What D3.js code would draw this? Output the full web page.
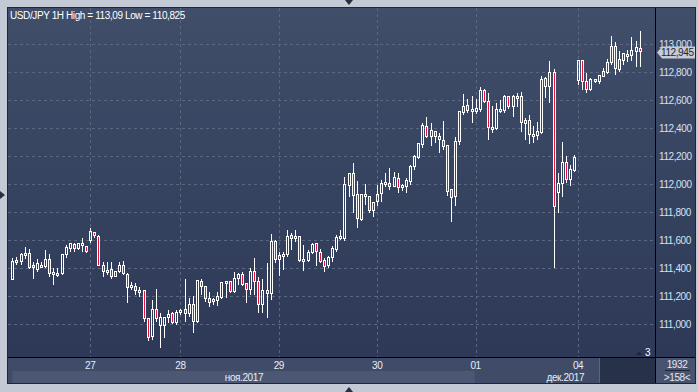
<!DOCTYPE html>
<meta charset="utf-8">
<style>

body {
  margin: 0;
  background: #c3cad6;
}

svg {
  display: block;
  font-family: "Liberation Sans", Arial, sans-serif;
  font-size: 10px;
  letter-spacing: -0.4px;
}

.grid line {
  stroke: #5b6781;
  stroke-dasharray: 3,3;
}

.ylab text {
  fill: #d3e2f6;
}

.wick {
  stroke: #fff;
}

.body {
  stroke: #fff;
}

</style>
<svg width="698" height="392">
  <defs>
    <linearGradient id="bg" x1="0" y1="0" x2="0" y2="1">
      <stop offset="0%" stop-color="#404e6a"></stop>
      <stop offset="100%" stop-color="#2d3956"></stop>
    </linearGradient>
  </defs>
</svg>
<script src="https://cdn.jsdelivr.net/npm/d3@7/dist/d3.min.js"></script>
<script>

// hourly USD/JPY candles
var opens = [111.314,111.441,111.445,111.493,111.503,111.412,111.386,111.410,111.410,111.455,
  111.350,111.355,111.355,111.493,111.533,111.562,111.533,111.562,111.548,111.591,
  111.648,111.619,111.417,111.362,111.383,111.333,111.374,111.417,111.350,111.260,
  111.262,111.224,111.233,111.036,110.905,111.100,110.986,110.986,111.041,111.069,
  111.005,111.083,111.100,111.072,111.133,111.014,111.297,111.264,111.176,111.154,
  111.166,111.183,111.290,111.297,111.226,111.319,111.350,111.283,111.243,111.369,
  111.297,111.133,111.238,111.212,111.588,111.457,111.485,111.493,111.631,111.604,
  111.624,111.445,111.452,111.504,111.569,111.504,111.450,111.416,111.469,111.528,
  111.604,111.607,111.985,112.069,111.921,111.743,111.916,111.909,111.809,111.869,
  111.926,111.997,111.997,111.981,112.033,111.972,111.981,112.017,112.124,112.188,
  112.279,112.409,112.338,112.369,112.333,112.309,112.271,111.957,111.905,112.297,
  112.509,112.557,112.517,112.517,112.528,112.667,112.583,112.390,112.390,112.517,
  112.521,112.619,112.548,112.612,112.619,112.428,112.450,112.343,112.345,112.367,
  112.748,112.690,112.790,111.933,112.000,112.152,112.029,112.095,112.738,112.878,
  112.731,112.671,112.743,112.731,112.766,112.795,112.862,112.976,112.814,112.881,
  112.914,112.914,112.945,112.962];

var highs = [111.469,111.481,111.505,111.548,111.533,111.445,111.462,111.441,111.526,111.498,
  111.398,111.398,111.498,111.562,111.581,111.576,111.576,111.617,111.557,111.683,
  111.653,111.636,111.441,111.441,111.441,111.374,111.441,111.450,111.362,111.303,
  111.295,111.267,111.233,111.041,111.172,111.248,111.076,111.053,111.100,111.088,
  111.100,111.107,111.319,111.188,111.200,111.314,111.319,111.264,111.231,111.183,
  111.226,111.302,111.307,111.309,111.374,111.362,111.369,111.295,111.402,111.469,
  111.338,111.319,111.433,111.640,111.600,111.512,111.512,111.671,111.647,111.671,
  111.624,111.564,111.528,111.576,111.569,111.535,111.469,111.488,111.559,111.635,
  111.671,112.047,112.081,112.152,112.021,111.928,111.997,111.914,111.874,111.993,
  112.028,112.076,112.112,112.088,112.076,111.998,112.040,112.136,112.207,112.295,
  112.438,112.481,112.433,112.374,112.362,112.450,112.279,111.957,112.333,112.521,
  112.643,112.605,112.628,112.605,112.695,112.676,112.648,112.557,112.576,112.600,
  112.636,112.628,112.636,112.652,112.655,112.469,112.493,112.414,112.445,112.771,
  112.767,112.879,112.819,112.081,112.297,112.200,112.136,112.207,112.886,112.886,
  112.790,112.755,112.750,112.778,112.826,112.890,113.059,113.017,112.950,112.938,
  112.957,113.047,113.024,113.093];

var lows = [111.314,111.422,111.422,111.462,111.393,111.324,111.374,111.398,111.403,111.338,
  111.281,111.333,111.350,111.469,111.517,111.517,111.529,111.517,111.510,111.581,
  111.612,111.417,111.338,111.350,111.319,111.333,111.362,111.350,111.148,111.243,
  111.207,111.195,111.017,110.881,110.886,111.017,110.825,110.898,111.005,110.998,
  110.995,111.064,111.017,111.053,110.933,111.005,111.207,111.159,111.124,111.135,
  111.131,111.176,111.183,111.219,111.219,111.278,111.274,111.147,111.207,111.207,
  111.076,111.076,111.045,111.171,111.438,111.345,111.385,111.481,111.528,111.588,
  111.440,111.381,111.445,111.500,111.416,111.438,111.374,111.397,111.445,111.516,
  111.600,111.593,111.909,111.795,111.683,111.738,111.850,111.795,111.766,111.843,
  111.874,111.976,111.957,111.976,111.933,111.950,111.938,111.993,112.100,112.178,
  112.259,112.326,112.271,112.295,112.219,112.243,111.917,111.731,111.845,112.279,
  112.493,112.509,112.438,112.500,112.517,112.576,112.314,112.362,112.386,112.509,
  112.505,112.533,112.481,112.552,112.374,112.314,112.283,112.295,112.314,112.357,
  112.612,112.581,111.397,111.795,111.909,112.010,111.988,112.083,112.707,112.671,
  112.647,112.666,112.719,112.714,112.762,112.785,112.850,112.778,112.797,112.850,
  112.874,112.878,112.838,112.838];

var closes = [111.441,111.450,111.493,111.503,111.403,111.398,111.429,111.417,111.455,111.355,
  111.364,111.360,111.493,111.541,111.569,111.536,111.569,111.569,111.517,111.655,
  111.629,111.417,111.369,111.379,111.333,111.374,111.417,111.355,111.260,111.269,
  111.236,111.233,111.038,110.898,111.100,111.036,111.041,111.045,111.064,111.005,
  111.081,111.093,111.069,111.133,111.014,111.307,111.262,111.176,111.147,111.169,
  111.190,111.290,111.297,111.226,111.319,111.350,111.278,111.243,111.369,111.297,
  111.135,111.238,111.212,111.588,111.457,111.485,111.493,111.624,111.604,111.619,
  111.450,111.457,111.504,111.562,111.512,111.445,111.409,111.469,111.533,111.612,
  111.619,111.993,112.069,111.914,111.747,111.921,111.921,111.809,111.862,111.921,
  111.997,112.004,111.981,112.040,111.969,111.984,112.021,112.124,112.195,112.286,
  112.414,112.338,112.378,112.333,112.314,112.267,111.945,111.897,112.297,112.517,
  112.552,112.524,112.529,112.533,112.667,112.583,112.397,112.402,112.528,112.528,
  112.619,112.552,112.619,112.619,112.438,112.450,112.350,112.350,112.374,112.743,
  112.690,112.790,111.833,112.000,112.148,112.029,112.100,112.183,112.881,112.731,
  112.671,112.743,112.731,112.771,112.797,112.866,112.976,112.819,112.886,112.929,
  112.921,112.950,112.969,112.945];

var priceTicks = [111.0, 111.2, 111.4, 111.6, 111.8, 112.0, 112.2, 112.4, 112.6, 112.8, 113.0];
var dayTicks = [19, 41, 65, 89, 113, 138];
var dayLabels = ["27", "28", "29", "30", "01", "04"];
var months = ["ноя.2017", "дек.2017"];
var monthStarts = [0, 113];

var title = "USD/JPY 1H High = 113,09 Low = 110,825";

var svg = d3.select("svg"),
    width = +svg.attr("width"),
    height = +svg.attr("height");

var plot = {left: 8, top: 8, right: 655, bottom: 357};

var x = d3.scaleLinear()
    .domain([0, opens.length - 1])
    .range([12.3, 639.6]);

var y = d3.scaleLinear()
    .domain([111, 113])
    .range([324, 44]);

var fmt = function(v) { return d3.format(".3f")(v).replace(".", ","); };

// frame
svg.append("rect")
    .attr("x", 7.5).attr("y", 7.5)
    .attr("width", 688).attr("height", 376)
    .attr("fill", "#2a3347")
    .attr("stroke", "#1f2636");

svg.append("rect")
    .attr("x", plot.left).attr("y", plot.top)
    .attr("width", plot.right - plot.left).attr("height", plot.bottom - plot.top)
    .attr("fill", "url(#bg)");

svg.append("rect")
    .attr("x", plot.right + 1).attr("y", plot.top)
    .attr("width", 39).attr("height", plot.bottom - plot.top)
    .attr("fill", "url(#bg)");

// time axis band
svg.append("rect")
    .attr("x", plot.left).attr("y", plot.bottom)
    .attr("width", plot.right - plot.left).attr("height", 26)
    .attr("fill", "#3f4b67");

svg.append("rect")
    .attr("x", x(monthStarts[0])).attr("y", 371)
    .attr("width", x(monthStarts[1]) - 1 - x(monthStarts[0])).attr("height", 12)
    .attr("fill", "#4c5873");

svg.append("rect")
    .attr("x", 600).attr("y", plot.bottom + 1)
    .attr("width", plot.right - 600).attr("height", 25)
    .attr("fill", "#273149");

svg.append("line")
    .attr("x1", 599.5).attr("x2", 599.5)
    .attr("y1", plot.bottom + 1).attr("y2", 383)
    .attr("stroke", "#5a6580");

svg.append("rect")
    .attr("x", plot.right + 1).attr("y", plot.bottom + 1)
    .attr("width", 39).attr("height", 25)
    .attr("fill", "#48546f");

// grid
var grid = svg.append("g").attr("class", "grid");

grid.selectAll(".h")
    .data(priceTicks)
  .enter().append("line")
    .attr("x1", plot.left).attr("x2", plot.right)
    .attr("y1", function(d) { return Math.round(y(d)) + 0.5; })
    .attr("y2", function(d) { return Math.round(y(d)) + 0.5; });

grid.selectAll(".v")
    .data(dayTicks)
  .enter().append("line")
    .attr("y1", plot.top).attr("y2", plot.bottom)
    .attr("x1", function(d) { return Math.round(x(d)) + 0.5; })
    .attr("x2", function(d) { return Math.round(x(d)) + 0.5; });

// candles
var candles = svg.append("g")
  .selectAll("g")
    .data(d3.range(opens.length))
  .enter().append("g");

function px(i) { return Math.round(x(i)); }
function topY(i) { return Math.round(y(Math.max(opens[i], closes[i]))); }
function botY(i) {
  return Math.max(Math.round(y(Math.min(opens[i], closes[i]))), topY(i) + 2);
}

candles.append("line")
    .attr("class", "wick")
    .attr("x1", function(i) { return px(i) + 0.5; })
    .attr("x2", function(i) { return px(i) + 0.5; })
    .attr("y1", function(i) { return Math.round(y(highs[i])); })
    .attr("y2", function(i) { return topY(i); });

candles.append("line")
    .attr("class", "wick")
    .attr("x1", function(i) { return px(i) + 0.5; })
    .attr("x2", function(i) { return px(i) + 0.5; })
    .attr("y1", function(i) { return botY(i); })
    .attr("y2", function(i) { return Math.max(Math.round(y(lows[i])), botY(i)); });

candles.append("rect")
    .attr("class", "body")
    .attr("x", function(i) { return px(i) - 0.5; })
    .attr("y", function(i) { return topY(i) - 0.5; })
    .attr("width", 2)
    .attr("height", function(i) { return botY(i) - topY(i); })
    .attr("fill", function(i) { return closes[i] < opens[i] ? "#e3123d" : "none"; });

// separators
svg.append("line")
    .attr("x1", plot.right + 0.5).attr("x2", plot.right + 0.5)
    .attr("y1", plot.top).attr("y2", 383)
    .attr("stroke", "#000");

svg.append("line")
    .attr("x1", plot.left).attr("x2", 695)
    .attr("y1", plot.bottom + 0.5).attr("y2", plot.bottom + 0.5)
    .attr("stroke", "#000");

// price labels
svg.append("g")
    .attr("class", "ylab")
  .selectAll("text")
    .data(priceTicks)
  .enter().append("text")
    .attr("x", 659)
    .attr("y", function(d) { return y(d); })
    .attr("dy", "0.35em")
    .text(fmt);

var last = closes[closes.length - 1],
    ly = Math.round(y(last)) + 0.5;

svg.append("path")
    .attr("d", "M657," + ly + "L662," + (ly - 6) + "H695V" + (ly + 6) + "H662Z")
    .attr("fill", "#c7cbd3");

svg.append("text")
    .attr("x", 661)
    .attr("y", ly)
    .attr("dy", "0.36em")
    .attr("fill", "#1c2436")
    .text(fmt(last));

// day and month labels
svg.append("g")
  .selectAll("text")
    .data(dayTicks)
  .enter().append("text")
    .attr("x", function(d) { return x(d); })
    .attr("y", 369)
    .attr("text-anchor", "middle")
    .attr("fill", "#e8eef7")
    .text(function(d, i) { return dayLabels[i]; });

svg.append("g")
  .selectAll("text")
    .data(months)
  .enter().append("text")
    .attr("x", function(d, i) {
      var a = x(monthStarts[i]), b = i + 1 < monthStarts.length ? x(monthStarts[i + 1]) : plot.right;
      return (a + b) / 2;
    })
    .attr("y", 381)
    .attr("text-anchor", "middle")
    .attr("fill", "#e8eef7")
    .text(function(d) { return d; });

// title
svg.append("text")
    .attr("x", 10)
    .attr("y", 18.5)
    .attr("fill", "#fff")
    .text(title);

// bits of chrome
svg.append("text")
    .attr("x", 645).attr("y", 356)
    .attr("fill", "#fff")
    .text("3");

svg.append("path")
    .attr("d", "M636,355L639,351.5L642,355Z")
    .attr("fill", "#1e2638");

svg.append("text")
    .attr("x", 677).attr("y", 367.5)
    .attr("text-anchor", "middle")
    .attr("fill", "#e3e9f2")
    .text("1932");

svg.append("line")
    .attr("x1", 665).attr("x2", 690)
    .attr("y1", 370.5).attr("y2", 370.5)
    .attr("stroke", "#1e2638");

svg.append("text")
    .attr("x", 677).attr("y", 380.5)
    .attr("text-anchor", "middle")
    .attr("fill", "#e3e9f2")
    .text(">158<");

svg.append("path")
    .attr("d", "M345,0H353L349,5Z")
    .attr("fill", "#262e40");

svg.append("path")
    .attr("d", "M0,191V199L5,195Z")
    .attr("fill", "#262e40");

svg.append("path")
    .attr("d", "M345,392H353L349,387Z")
    .attr("fill", "#262e40");

</script>
